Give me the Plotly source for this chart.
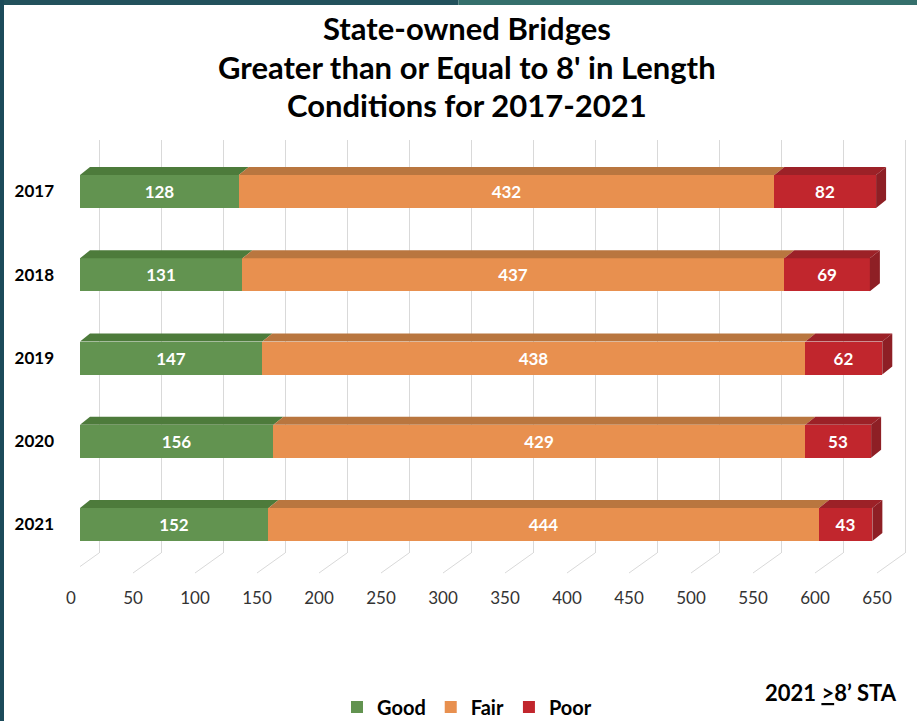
import plotly.graph_objects as go

# ---------------- data ----------------
years = ["2017", "2018", "2019", "2020", "2021"]
good = [128, 131, 147, 156, 152]
fair = [432, 437, 438, 429, 444]
poor = [82, 69, 62, 53, 43]
series_names = ["Good", "Fair", "Poor"]
tick_values = list(range(0, 651, 50))

# ---------------- style / geometry ----------------
W, H = 917, 721
PL, PR, PT, PB = 80, 912, 140, 553          # plot area in px
PXU = 1.24                                    # px per data unit
XMAX = (PR - PL) / PXU
BACK_SHIFT = 19                               # back-wall gridline shift (px)
Y_TOP, Y_BOT = -0.619, 4.342
BAR_W = 0.396
DX = 10 / PXU                                 # 3D depth, x (data units)
DY = 8 / ((PB - PT) / (Y_BOT - Y_TOP))        # 3D depth, y (data units)
FONT = "Lato"

front = ["#629350", "#e8904f", "#c1262d"]
top = ["#4d7b3b", "#b9763f", "#9c2127"]
side = ["#46702f", "#a8683a", "#8e1f25"]


def px_x(p):
    return (p - PL) / (PR - PL)


def px_y(p):
    return (PB - p) / (PB - PT)


fig = go.Figure()
ypos = list(range(len(years)))
values = [good, fair, poor]

# front faces
for k, (name, vals) in enumerate(zip(series_names, values)):
    fig.add_trace(go.Bar(
        name=name, y=ypos, x=vals, orientation="h", width=BAR_W,
        marker=dict(color=front[k], line=dict(width=0)),
        text=vals, texttemplate="<b>%{text}</b>", textposition="inside",
        insidetextanchor="middle", textangle=0,
        textfont=dict(color="white", size=17, family=FONT),
        hoverinfo="skip",
    ))

# 3D top faces and end side face
for k in range(3):
    xs, ys = [], []
    for i in range(len(years)):
        start = sum(values[j][i] for j in range(k))
        end = start + values[k][i]
        yt = i - BAR_W / 2
        xs += [start, end, end + DX, start + DX, start, None]
        ys += [yt, yt, yt - DY, yt - DY, yt, None]
    fig.add_trace(go.Scatter(x=xs, y=ys, fill="toself", fillcolor=top[k],
                             mode="lines", line=dict(width=0), showlegend=False,
                             hoverinfo="skip"))
xs, ys = [], []
for i in range(len(years)):
    end = good[i] + fair[i] + poor[i]
    yt, yb = i - BAR_W / 2, i + BAR_W / 2
    xs += [end, end + DX, end + DX, end, end, None]
    ys += [yt, yt - DY, yb - DY, yb, yt, None]
fig.add_trace(go.Scatter(x=xs, y=ys, fill="toself", fillcolor=side[2],
                         mode="lines", line=dict(width=0), showlegend=False,
                         hoverinfo="skip"))

# invisible trace on x2 to activate back-wall grid axis
fig.add_trace(go.Scatter(x=[0], y=[0], xaxis="x2", mode="markers",
                         marker=dict(opacity=0), showlegend=False, hoverinfo="skip"))

shapes = []
# floor slanted gridlines
for v in tick_values:
    shapes.append(dict(type="line", xref="x", yref="paper",
                       x0=v + BACK_SHIFT / PXU, x1=v - 28 / PXU + BACK_SHIFT / PXU,
                       y0=0, y1=px_y(573), line=dict(color="#d9d9d9", width=1),
                       layer="below"))
# frame
shapes.append(dict(type="rect", xref="paper", yref="paper",
                   x0=px_x(0), x1=px_x(W / 2), y0=px_y(5), y1=px_y(0),
                   fillcolor="#22515c", line=dict(width=0)))
shapes.append(dict(type="rect", xref="paper", yref="paper",
                   x0=px_x(W / 2), x1=px_x(W), y0=px_y(5), y1=px_y(0),
                   fillcolor="#35706c", line=dict(width=0)))
shapes.append(dict(type="rect", xref="paper", yref="paper",
                   x0=px_x(0), x1=px_x(4), y0=px_y(H), y1=px_y(0),
                   fillcolor="#1c4b5a", line=dict(width=0)))

annotations = []
title_lines = ["State-owned Bridges", "Greater than or Equal to 8' in Length",
               "Conditions for 2017-2021"]
for line, yc in zip(title_lines, [28, 67, 105]):
    annotations.append(dict(text="<b>%s</b>" % line, xref="paper", yref="paper",
                            x=px_x(467), y=px_y(yc), xanchor="center", yanchor="middle",
                            showarrow=False, font=dict(size=31, color="black", family=FONT)))
annotations.append(dict(text="<b>2021 <u>&gt;</u>8’ STA</b>", xref="paper", yref="paper",
                        x=px_x(763), y=px_y(692), xanchor="left", yanchor="middle",
                        showarrow=False, font=dict(size=22, color="black", family=FONT)))

fig.update_layout(
    width=W, height=H,
    margin=dict(l=PL, r=W - PR, t=PT, b=H - PB, pad=0, autoexpand=False),
    paper_bgcolor="white", plot_bgcolor="white",
    barmode="stack", bargap=0,
    font=dict(family=FONT),
    xaxis=dict(range=[0, XMAX], tickvals=tick_values, showgrid=False,
               zeroline=False, showline=False, ticks="", automargin=False,
               ticklabelshift=-9, ticklabelstandoff=33,
               tickfont=dict(size=17, color="#333333", family=FONT)),
    xaxis2=dict(range=[-BACK_SHIFT / PXU, XMAX - BACK_SHIFT / PXU], overlaying="x",
                tickvals=tick_values, showgrid=True, gridcolor="#d9d9d9", gridwidth=1,
                showticklabels=False, zeroline=False, showline=False, ticks=""),
    yaxis=dict(range=[Y_BOT, Y_TOP], tickvals=ypos, ticktext=years,
               showgrid=False, zeroline=False, showline=False, ticks="", automargin=False,
               ticklabelstandoff=25,
               tickfont=dict(size=17, color="black", family=FONT, weight="bold")),
    legend=dict(orientation="h", x=px_x(467), xanchor="center",
                y=px_y(707), yanchor="middle",
                font=dict(size=20, color="black", family=FONT, weight="bold"),
                traceorder="normal"),
    shapes=shapes, annotations=annotations,
    showlegend=True,
)

fig.write_html("out.html", config={"displayModeBar": False},
               post_script="document.body.style.margin='0';document.body.style.overflow='hidden';")
